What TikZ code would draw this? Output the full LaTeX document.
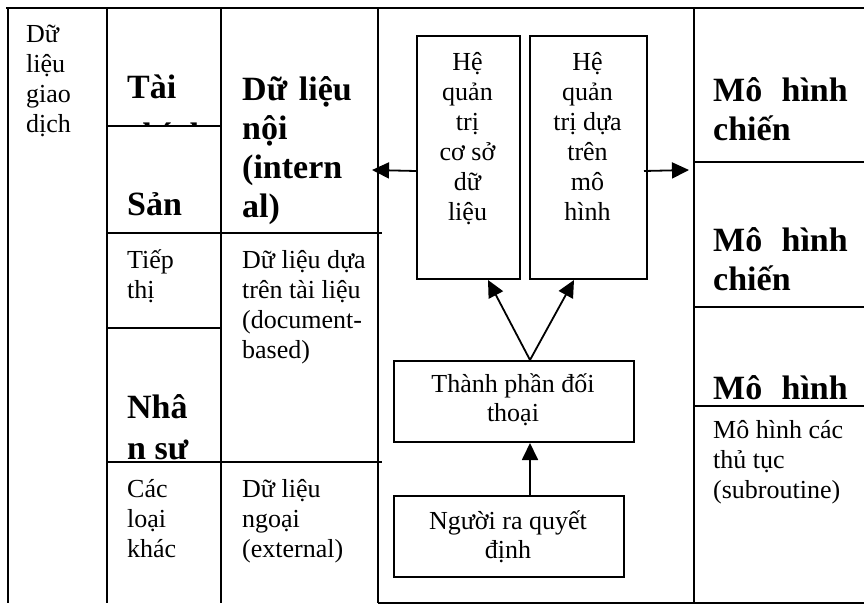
\documentclass[tikz,border=0pt]{standalone}
\usepackage{fontspec}
\setmainfont{Liberation Serif}
\usetikzlibrary{arrows.meta,calc}
\tikzset{
  grid/.style={line width=2.5pt},
  reg/.style={anchor=base west, inner sep=0pt, font=\fontsize{26}{30}\selectfont},
  regc/.style={anchor=base, inner sep=0pt, font=\fontsize{26}{30}\selectfont},
  bld/.style={anchor=base west, inner sep=0pt, font=\fontsize{34}{40}\selectfont\bfseries},
  bldr/.style={anchor=base east, inner sep=0pt, font=\fontsize{34}{40}\selectfont\bfseries},
  box/.style={draw, line width=2pt, inner sep=0pt, anchor=north west},
  arr/.style={line width=1.8pt, -{Triangle[length=17pt,width=16pt]}},
}
\begin{document}
\begin{tikzpicture}[x=1pt,y=-1pt]
\useasboundingbox (0,0) rectangle (864,605);
% table grid
\draw[grid] (6,8) -- (864,8);
\draw[grid] (8,8) -- (8,603);
\draw[grid] (107,8) -- (107,603);
\draw[grid] (221,8) -- (221,603);
\draw[grid] (378,8) -- (378,603);
\draw[grid] (694,8) -- (694,603);
\draw[grid] (378,603) -- (864,603);
\draw[grid] (107,126) -- (221,126);
\draw[grid] (107,233) -- (382,233);
\draw[grid] (107,328) -- (221,328);
\draw[grid] (107,462) -- (382,462);
\draw[grid] (694,162) -- (864,162);
\draw[grid] (694,307) -- (864,307);
\draw[grid] (694,406) -- (864,406);
% column 1
\node[reg] (c1a) at (26,42) {Dữ};
\node[reg] (c1b) at (26,72) {liệu};
\node[reg] (c1c) at (26,102) {giao};
\node[reg] (c1d) at (26,132) {dịch};
% column 2
\node[bld] (c2a) at (127,98) {Tài};
\begin{scope}
  \clip (107,8) rectangle (221,125);
  \node[bld] (c2b) at (127,146) {chính};
\end{scope}
\node[bld] (c2c) at (127,215) {Sản};
\node[reg] (c2d) at (127,268) {Tiếp};
\node[reg] (c2e) at (127,298) {thị};
\node[bld] (c2f) at (127,418) {Nhâ};
\begin{scope}
  \clip (107,328) rectangle (221,459);
  \node[bld] (c2g) at (127,459) {n sự};
\end{scope}
\node[reg] (c2h) at (127,497) {Các};
\node[reg] (c2i) at (127,527) {loại};
\node[reg] (c2j) at (127,557) {khác};
% column 3
\node[bld] (c3a) at (242,100) {Dữ};
\node[bldr] (c3b) at (352,100) {liệu};
\node[bld] (c3c) at (242,139) {nội};
\node[bld] (c3d) at (242,178) {(intern};
\node[bld] (c3e) at (242,217) {al)};
\node[reg] (c3f) at (242,268) {Dữ liệu dựa};
\node[reg] (c3g) at (242,298) {trên tài liệu};
\node[reg] (c3h) at (242,328) {(document-};
\node[reg] (c3i) at (242,358) {based)};
\node[reg] (c3j) at (242,497) {Dữ liệu};
\node[reg] (c3k) at (242,527) {ngoại};
\node[reg] (c3l) at (242,557) {(external)};
% right column
\node[bld] (r1a) at (713,101) {Mô};
\node[bldr] (r1b) at (848,101) {hình};
\node[bld] (r1c) at (713,140) {chiến};
\node[bld] (r2a) at (713,251) {Mô};
\node[bldr] (r2b) at (848,251) {hình};
\node[bld] (r2c) at (713,290) {chiến};
\node[bld] (r3a) at (713,399) {Mô};
\node[bldr] (r3b) at (848,399) {hình};
\node[reg] (r4a) at (713,438) {Mô hình các};
\node[reg] (r4b) at (713,468) {thủ tục};
\node[reg] (r4c) at (713,498) {(subroutine)};
% middle boxes
\node[box, minimum width=103pt, minimum height=243pt] (b1) at (416,35) {};
\node[box, minimum width=117pt, minimum height=243pt] (b2) at (529,35) {};
\node[box, minimum width=240pt, minimum height=81pt] (b3) at (393,360) {};
\node[box, minimum width=230pt, minimum height=81pt] (b4) at (393,495) {};
\node[regc] (b1a) at (467.5,70) {Hệ};
\node[regc] (b1b) at (467.5,100) {quản};
\node[regc] (b1c) at (467.5,130) {trị};
\node[regc] (b1d) at (467.5,160) {cơ sở};
\node[regc] (b1e) at (467.5,190) {dữ};
\node[regc] (b1f) at (467.5,220) {liệu};
\node[regc] (b2a) at (587.5,70) {Hệ};
\node[regc] (b2b) at (587.5,100) {quản};
\node[regc] (b2c) at (587.5,130) {trị dựa};
\node[regc] (b2d) at (587.5,160) {trên};
\node[regc] (b2e) at (587.5,190) {mô};
\node[regc] (b2f) at (587.5,220) {hình};
\node[regc] (b3a) at (513,392) {Thành phần đối};
\node[regc] (b3b) at (513,421) {thoại};
\node[regc] (b4a) at (508,529) {Người ra quyết};
\node[regc] (b4b) at (508,558) {định};
% arrows
\coordinate (lt) at (372,170);
\coordinate (rt) at (689,170);
\coordinate (fork) at ($(b3.north)+(16,0)$);
\draw[arr] ($(b1.west)+(0,13.5)$) -- (lt);
\draw[arr] ($(b2.east)+(-4,13.5)$) -- (rt);
\draw[arr] (fork) -- ($(b1.south)+(19.5,0)$);
\draw[arr] (fork) -- ($(b2.south)+(-14.5,0)$);
\draw[arr] (b4.north -| fork) -- (b3.south -| fork);
\end{tikzpicture}
\end{document}
